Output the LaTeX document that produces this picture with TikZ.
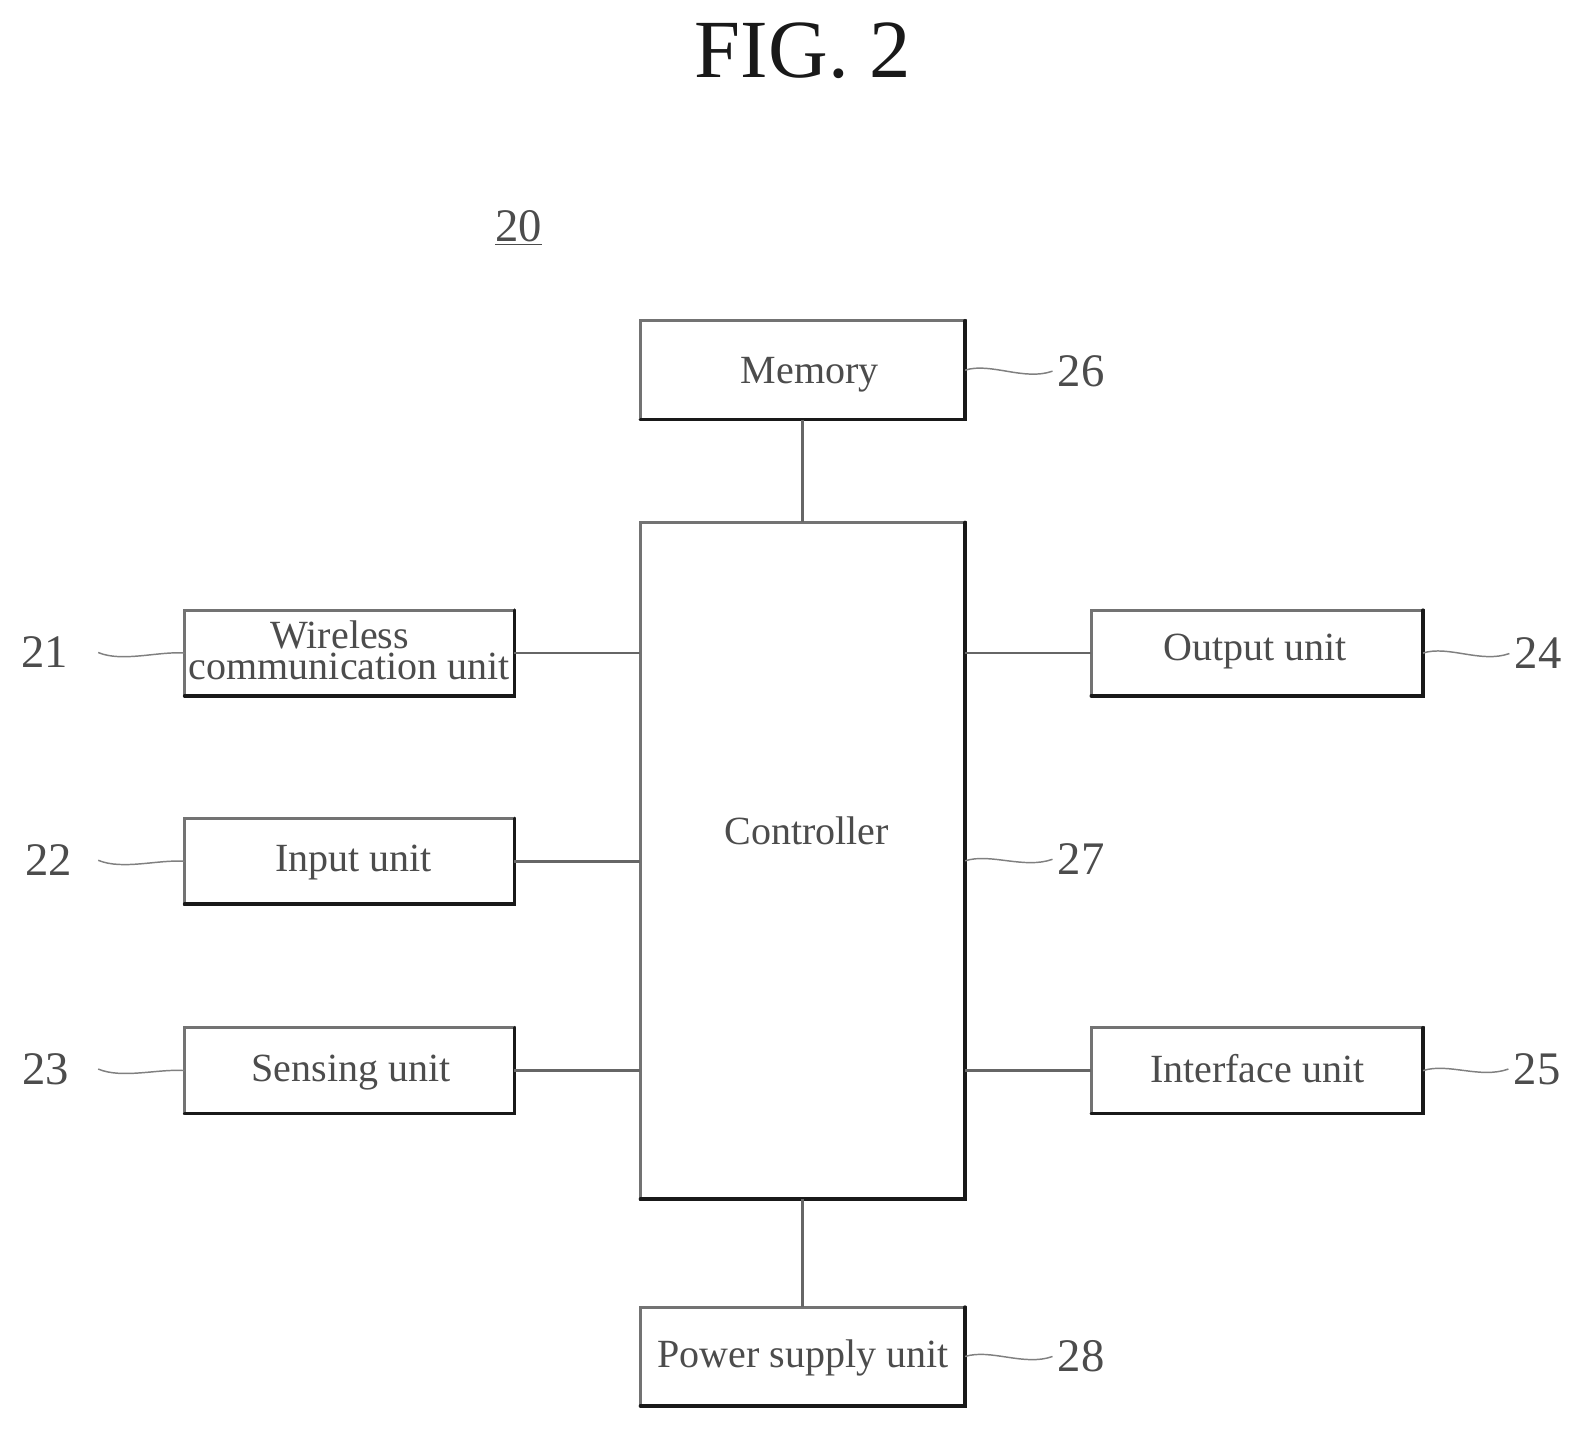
\documentclass[tikz,border=0pt]{standalone}
\usepackage{fontspec}
\setmainfont{Liberation Serif}
\newlength\uu \setlength\uu{0.7564pt}
\newcommand{\nudge}[3]{\raisebox{#2\uu}{\makebox[0pt]{\hspace*{#1\uu}#3}}}
\tikzset{x=0.7564pt,y=-0.7564pt,
 box/.style={draw=black!55,line width=2.2pt,fill=white,rectangle,inner sep=0pt,outer sep=0pt,
   font=\fontsize{30}{23.6}\selectfont,text=black!70,text height=20pt,text depth=0pt},
 side/.style={box,minimum width=327\uu,minimum height=85\uu},
 central/.style={box,minimum width=322\uu},
 refn/.style={font=\fontsize{35}{35}\selectfont,text=black!70,inner sep=0pt},
 figtitle/.style={font=\fontsize{62}{62}\selectfont,text=black!90,inner sep=0pt},
 conn/.style={draw=black!60,line width=2pt},
 lead/.style={draw=black!50,line width=1.1pt},
 shade/.style={draw=black!90,line width=2.6pt,line cap=round}}
\begin{document}
\begin{tikzpicture}
\useasboundingbox (0,0) rectangle (1568.6,1420);
\fill[white] (0,0) rectangle (1568.6,1420);
\node[figtitle] (fig) at (796,50) {FIG. 2};
\node[refn] (n20) at (514,226) {\underline{20}};
% central column
\node[central,minimum height=98\uu] (mem) at (796,367) {\nudge{14}{0}{Memory}};
\node[central,minimum height=671\uu] (ctl) at (796,853.5) {\nudge{8}{29}{Controller}};
\node[central,minimum height=98\uu] (pow) at (796,1345) {\nudge{0}{2}{Power supply unit}};
% left column
\node[side,align=center,text height=,text depth=6\uu] (wir) at (346.5,647.5) {Wireless\hspace*{19\uu}\\communication unit};
\node[side] (inp) at (346.5,854) {\nudge{8}{3}{Input unit}};
\node[side] (sen) at (346.5,1061.5) {\nudge{3}{2}{Sensing unit}};
% right column
\node[side,minimum width=329\uu] (out) at (1246.5,647.5) {\nudge{-4}{6}{Output unit}};
\node[side,minimum width=329\uu] (itf) at (1246.5,1061.5) {\nudge{0}{1}{Interface unit}};
% reference numerals
\node[refn] (n21) at (44,647) {21};
\node[refn] (n22) at (48,853) {22};
\node[refn] (n23) at (45,1060) {23};
\node[refn] (n24) at (1525,648) {24};
\node[refn] (n25) at (1524,1060) {25};
\node[refn] (n26) at (1072,368) {26};
\node[refn] (n27) at (1072,852) {27};
\node[refn] (n28) at (1072,1345) {28};
% heavier bottom and right edges
\foreach \b in {mem,ctl,pow,wir,inp,sen,out,itf}
  \draw[shade] (\b.north east) -- (\b.south east) -- (\b.south west);
% connectors
\draw[conn] (mem.south) -- (ctl.north);
\draw[conn] (ctl.south) -- (pow.north);
\draw[conn] (wir.east) -- (wir.east -| ctl.west);
\draw[conn] (inp.east) -- (inp.east -| ctl.west);
\draw[conn] (sen.east) -- (sen.east -| ctl.west);
\draw[conn] (out.west) -- (out.west -| ctl.east);
\draw[conn] (itf.west) -- (itf.west -| ctl.east);
% leaders
\draw[lead] (n21.east) ++(30,0) .. controls +(24,10) and +(-26,-2) .. (wir.west);
\draw[lead] (n22.east) ++(26,0) .. controls +(24,10) and +(-26,-2) .. (inp.west);
\draw[lead] (n23.east) ++(29,0) .. controls +(24,10) and +(-26,-2) .. (sen.west);
\draw[lead] (out.east) .. controls +(25,-8) and +(-28,10) .. ([xshift=-5\uu]n24.west);
\draw[lead] (itf.east) .. controls +(25,-8) and +(-28,10) .. ([xshift=-5\uu]n25.west);
\draw[lead] (mem.east) .. controls +(25,-8) and +(-28,10) .. ([xshift=-5\uu]n26.west);
\draw[lead] (ctl.east) .. controls +(25,-8) and +(-28,10) .. ([xshift=-5\uu]n27.west);
\draw[lead] (pow.east) .. controls +(25,-8) and +(-28,10) .. ([xshift=-5\uu]n28.west);
\end{tikzpicture}
\end{document}
